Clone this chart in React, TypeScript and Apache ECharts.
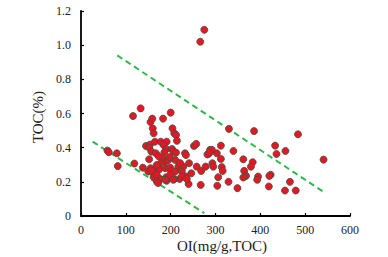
import React, { useEffect, useRef } from 'react';
import * as echarts from 'echarts';

const xAxisTitle = 'OI(mg/g,TOC)';
const yAxisTitle = 'TOC(%)';
const xRange = [0, 600];
const yRange = [0, 1.2];

// OI (mg/g TOC), TOC (%)
const samples: [number, number][] = [
  [275, 1.09], [266, 1.02],
  [133, 0.63], [116, 0.585], [200, 0.605], [155, 0.55], [159, 0.57], [183, 0.57],
  [160, 0.513], [162, 0.484], [204, 0.513], [208, 0.484], [212, 0.474], [214, 0.44],
  [330, 0.51], [386, 0.497], [484, 0.478],
  [145, 0.41], [154, 0.418], [152, 0.4], [165, 0.435], [178, 0.435], [191, 0.435],
  [184, 0.416], [190, 0.392], [203, 0.392], [206, 0.377], [212, 0.371], [157, 0.377],
  [167, 0.367], [186, 0.373], [232, 0.367], [234, 0.357], [252, 0.41], [257, 0.422],
  [288, 0.387], [286, 0.367], [282, 0.36], [312, 0.412], [303, 0.367], [312, 0.334],
  [340, 0.381], [362, 0.332], [383, 0.315], [379, 0.289], [364, 0.264], [368, 0.235],
  [362, 0.225], [395, 0.231], [393, 0.212], [423, 0.241], [420, 0.235], [433, 0.412],
  [436, 0.363], [456, 0.381], [541, 0.33],
  [59, 0.383], [62, 0.373], [80, 0.367], [82, 0.292], [119, 0.307], [138, 0.283],
  [152, 0.332], [155, 0.28], [160, 0.26], [150, 0.26], [163, 0.231], [183, 0.338],
  [188, 0.318], [195, 0.328], [210, 0.328], [217, 0.289], [228, 0.289], [241, 0.309],
  [258, 0.289], [268, 0.264], [278, 0.289], [293, 0.309], [295, 0.289], [314, 0.286],
  [316, 0.264], [164, 0.27], [175, 0.274], [188, 0.28], [199, 0.283], [201, 0.264],
  [210, 0.26], [225, 0.26], [234, 0.231], [220, 0.217], [208, 0.217], [191, 0.206],
  [177, 0.216], [162, 0.227], [169, 0.241], [240, 0.187], [267, 0.182], [306, 0.227],
  [329, 0.2], [169, 0.202], [349, 0.163], [419, 0.173], [466, 0.2], [455, 0.149],
  [479, 0.149], [304, 0.177], [172, 0.193], [177, 0.309], [169, 0.299], [190, 0.227],
  [199, 0.241], [225, 0.231], [236, 0.217], [157, 0.266], [292, 0.387], [286, 0.371],
  [188, 0.212], [206, 0.212], [173, 0.35], [198, 0.345], [221, 0.31], [246, 0.25],
];

const upperTrend: [number, number][] = [[81, 0.94], [544, 0.136]];
const lowerTrend: [number, number][] = [[26, 0.435], [275, 0.017]];

const FONT = '"Liberation Serif", "DejaVu Serif", serif';

export default function App() {
  const ref = useRef<HTMLDivElement>(null);
  useEffect(() => {
    if (!ref.current) return;
    const chart = echarts.init(ref.current, undefined, { renderer: 'svg' });
    const dashStyle = { color: '#2fb84a', width: 2, type: [6, 4] as any };
    chart.setOption({
      animation: false,
      backgroundColor: '#ffffff',
      grid: { left: 81, top: 11, width: 269, height: 205, outerBoundsMode: 'none' } as any,
      xAxis: {
        type: 'value',
        min: xRange[0],
        max: xRange[1],
        interval: 100,
        axisLine: { lineStyle: { color: '#000', width: 1.8 } },
        axisTick: { inside: true, length: 3, lineStyle: { color: '#000', width: 1.2 } },
        axisLabel: { color: '#222', fontFamily: FONT, fontSize: 12, margin: 8 },
        splitLine: { show: false },
      },
      yAxis: {
        type: 'value',
        min: yRange[0],
        max: yRange[1],
        interval: 0.2,
        axisLine: { show: true, lineStyle: { color: '#000', width: 1.8 } },
        axisTick: { show: true, inside: true, length: 3, lineStyle: { color: '#000', width: 1.2 } },
        axisLabel: {
          color: '#222', fontFamily: FONT, fontSize: 12, margin: 10,
          formatter: (v: number) => (v === 0 ? '0' : v.toFixed(1)),
        },
        splitLine: { show: false },
      },
      graphic: [
        {
          type: 'text', x: 38, y: 117, rotation: Math.PI / 2,
          style: { text: yAxisTitle, font: `15px ${FONT}`, fill: '#222', textAlign: 'center', textVerticalAlign: 'middle' },
        },
        {
          type: 'text', x: 222, y: 246,
          style: { text: xAxisTitle, font: `15px ${FONT}`, fill: '#222', textAlign: 'center', textVerticalAlign: 'middle' },
        },
      ],
      series: [
        { type: 'line', data: upperTrend, symbol: 'none', lineStyle: dashStyle, z: 1 },
        { type: 'line', data: lowerTrend, symbol: 'none', lineStyle: dashStyle, z: 1 },
        {
          type: 'scatter', data: samples, symbolSize: 7, z: 3,
          itemStyle: { color: '#e3191f', borderColor: '#4a4a4a', borderWidth: 0.8, opacity: 1 },
        },
      ],
    });
    return () => chart.dispose();
  }, []);
  return <div ref={ref} style={{ position: 'fixed', left: 0, top: 0, width: 388, height: 257 }} />;
}
